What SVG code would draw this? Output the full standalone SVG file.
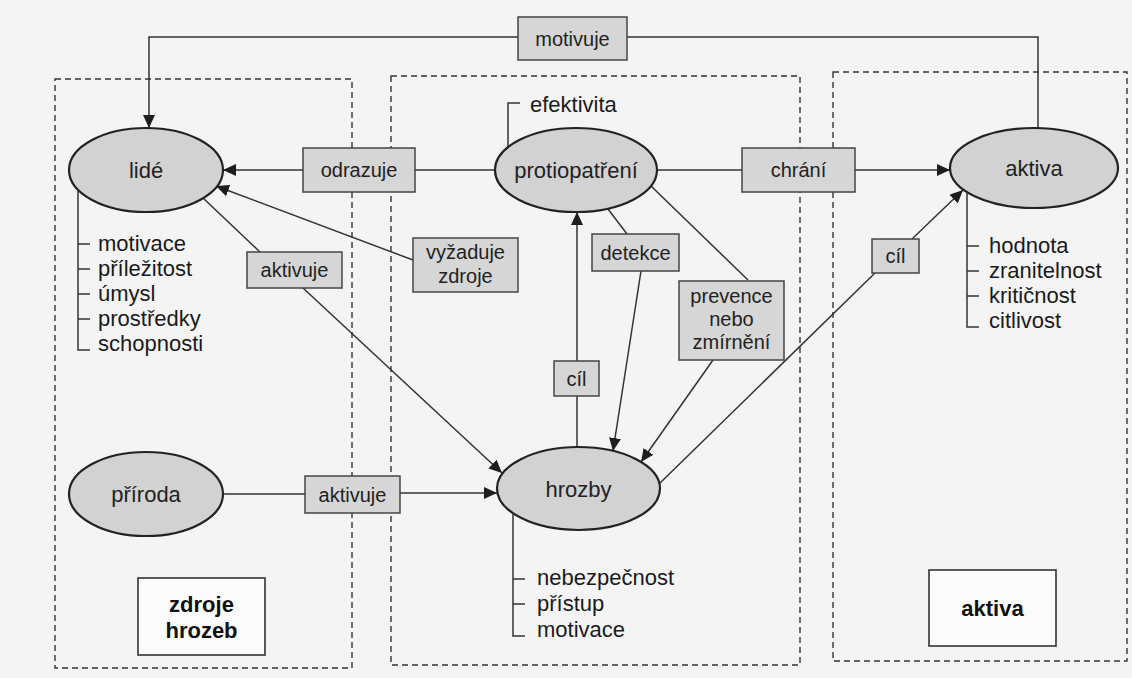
<svg xmlns="http://www.w3.org/2000/svg" width="1132" height="678" viewBox="0 0 1132 678">
  <defs>
    <marker id="arr" markerUnits="userSpaceOnUse" markerWidth="14" markerHeight="12" refX="13" refY="6" orient="auto">
      <path d="M0,0 L13,6 L0,12 Z" fill="#1e1e1e"/>
    </marker>
    <style>
      .panel{fill:none;stroke:#333;stroke-width:1.4;stroke-dasharray:6 4}
      .ell{fill:#d2d2d2;stroke:#222;stroke-width:2.2}
      .box{fill:#d6d6d6;stroke:#444;stroke-width:1.5}
      .tbox{fill:#fbfbfb;stroke:#333;stroke-width:1.6}
      .ln{fill:none;stroke:#333;stroke-width:1.5}
      .lb{font-family:"Liberation Sans",Arial,sans-serif;font-size:20px;fill:#222;text-anchor:middle}
      .el{font-family:"Liberation Sans",Arial,sans-serif;font-size:22px;fill:#222;text-anchor:middle}
      .li{font-family:"Liberation Sans",Arial,sans-serif;font-size:22px;fill:#1a1a1a}
      .bt{font-family:"Liberation Sans",Arial,sans-serif;font-size:22px;font-weight:bold;fill:#111;text-anchor:middle}
    </style>
  </defs>
  <rect width="1132" height="678" fill="#f4f4f4"/>

  <g id="panels">
    <rect class="panel" x="55" y="79" width="297" height="589"/>
    <rect class="panel" x="391" y="76" width="409" height="589"/>
    <rect class="panel" x="833" y="72" width="294" height="589"/>
  </g>

  <g id="connectors">
    <path class="ln" d="M1038,128 V37 H627"/>
    <path class="ln" d="M518,37 H149 V128" marker-end="url(#arr)"/>
    <path class="ln" d="M495,170 H415"/>
    <path class="ln" d="M303,170 H223" marker-end="url(#arr)"/>
    <path class="ln" d="M657,170 H742"/>
    <path class="ln" d="M855,170 H950" marker-end="url(#arr)"/>
    <path class="ln" d="M413,260 L216,186" marker-end="url(#arr)"/>
    <path class="ln" d="M203,198 L260,252"/>
    <path class="ln" d="M303,288 L502,473" marker-end="url(#arr)"/>
    <path class="ln" d="M223,494 H305"/>
    <path class="ln" d="M400,493 H497" marker-end="url(#arr)"/>
    <path class="ln" d="M577,447 V396"/>
    <path class="ln" d="M577,361 V212" marker-end="url(#arr)"/>
    <path class="ln" d="M608,209 L627,234"/>
    <path class="ln" d="M641,271 L613,451" marker-end="url(#arr)"/>
    <path class="ln" d="M651,186 L748,280"/>
    <path class="ln" d="M713,360 L641,462" marker-end="url(#arr)"/>
    <path class="ln" d="M659,484 L875,273"/>
    <path class="ln" d="M912,239 L963,190" marker-end="url(#arr)"/>
  </g>

  <g id="lide">
    <ellipse class="ell" cx="146" cy="170" rx="77" ry="42"/>
    <text class="el" x="146" y="178">lidé</text>
    <path class="ln" d="M78,190 V350 H90 M78,244 H90 M78,269 H90 M78,294 H90 M78,319 H90"/>
    <text class="li" x="98" y="251">motivace</text>
    <text class="li" x="98" y="276">příležitost</text>
    <text class="li" x="98" y="301">úmysl</text>
    <text class="li" x="98" y="326">prostředky</text>
    <text class="li" x="98" y="351">schopnosti</text>
  </g>

  <g id="protiopatreni">
    <ellipse class="ell" cx="576" cy="170" rx="81" ry="42"/>
    <text class="el" x="576" y="178">protiopatření</text>
    <path class="ln" d="M508,147 V103 H520"/>
    <text class="li" x="530" y="112">efektivita</text>
  </g>

  <g id="aktiva">
    <ellipse class="ell" cx="1034" cy="168" rx="84" ry="40"/>
    <text class="el" x="1034" y="176">aktiva</text>
    <path class="ln" d="M967,192 V327 H979 M967,246 H979 M967,271 H979 M967,296 H979"/>
    <text class="li" x="989" y="253">hodnota</text>
    <text class="li" x="989" y="278">zranitelnost</text>
    <text class="li" x="989" y="303">kritičnost</text>
    <text class="li" x="989" y="328">citlivost</text>
  </g>

  <g id="priroda">
    <ellipse class="ell" cx="146" cy="494" rx="77" ry="42"/>
    <text class="el" x="146" y="502">příroda</text>
  </g>

  <g id="hrozby">
    <ellipse class="ell" cx="578.5" cy="488.5" rx="81.5" ry="41.5"/>
    <text class="el" x="578.5" y="497">hrozby</text>
    <path class="ln" d="M513,513 V636 H525 M513,579 H525 M513,604 H525"/>
    <text class="li" x="537" y="585">nebezpečnost</text>
    <text class="li" x="537" y="611">přístup</text>
    <text class="li" x="537" y="637">motivace</text>
  </g>

  <g id="motivuje">
    <rect class="box" x="518" y="17" width="109" height="43"/>
    <text class="lb" x="572.5" y="45.5">motivuje</text>
  </g>
  <g id="odrazuje">
    <rect class="box" x="303" y="148" width="112" height="44"/>
    <text class="lb" x="359" y="177">odrazuje</text>
  </g>
  <g id="chrani">
    <rect class="box" x="742" y="148" width="113" height="44"/>
    <text class="lb" x="798.5" y="177">chrání</text>
  </g>
  <g id="aktivuje1">
    <rect class="box" x="247" y="252" width="95" height="36"/>
    <text class="lb" x="294.5" y="277">aktivuje</text>
  </g>
  <g id="vyzaduje">
    <rect class="box" x="413" y="238" width="105" height="54"/>
    <text class="lb" x="465.5" y="259">vyžaduje</text>
    <text class="lb" x="465.5" y="283">zdroje</text>
  </g>
  <g id="detekce">
    <rect class="box" x="592" y="234" width="87" height="37"/>
    <text class="lb" x="635.5" y="259.5">detekce</text>
  </g>
  <g id="prevence">
    <rect class="box" x="679" y="281" width="105" height="79"/>
    <text class="lb" x="731.5" y="303">prevence</text>
    <text class="lb" x="731.5" y="326">nebo</text>
    <text class="lb" x="731.5" y="349">zmírnění</text>
  </g>
  <g id="cil1">
    <rect class="box" x="554" y="361" width="45" height="35"/>
    <text class="lb" x="576.5" y="385.5">cíl</text>
  </g>
  <g id="cil2">
    <rect class="box" x="872" y="239" width="47" height="34"/>
    <text class="lb" x="895.5" y="263">cíl</text>
  </g>
  <g id="aktivuje2">
    <rect class="box" x="305" y="476" width="95" height="37"/>
    <text class="lb" x="352.5" y="501.5">aktivuje</text>
  </g>
  <g id="zdroje-hrozeb">
    <rect class="tbox" x="138" y="578" width="127" height="77"/>
    <text class="bt" x="201.5" y="612">zdroje</text>
    <text class="bt" x="201.5" y="638">hrozeb</text>
  </g>
  <g id="aktiva-panel">
    <rect class="tbox" x="929" y="570" width="127" height="76"/>
    <text class="bt" x="992.5" y="616">aktiva</text>
  </g>
</svg>
